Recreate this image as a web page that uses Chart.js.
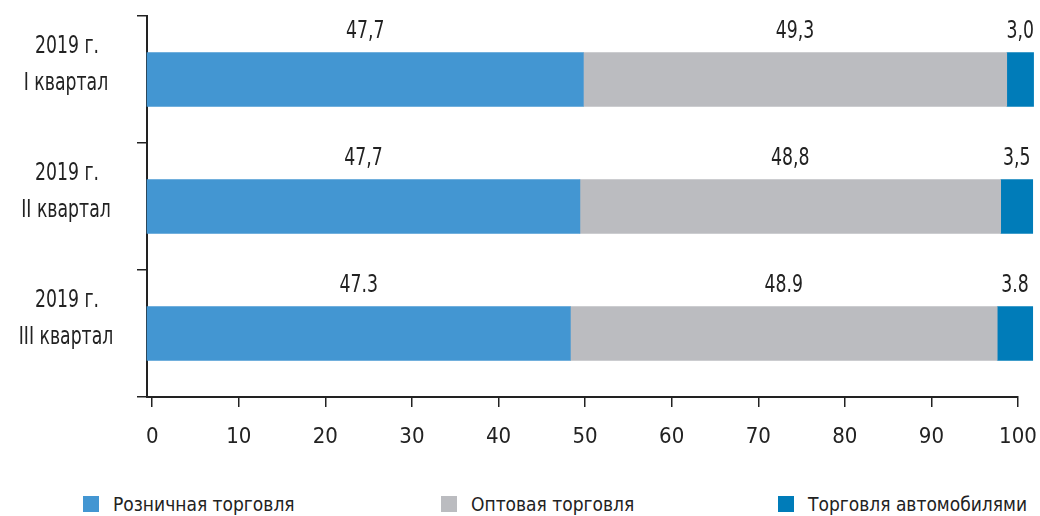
<!DOCTYPE html>
<html>
<head>
<meta charset="utf-8">
<script src="https://cdn.jsdelivr.net/npm/chart.js@4"></script>
<style>
    body { margin: 0; background: #fff; }
    #wrap { position: relative; width: 1040px; height: 516px; }
    #chartBox { position: absolute; left: 0; top: 0; width: 1040px; height: 470px; }
    #legend { position: absolute; left: 0; top: 492px; width: 1040px; height: 24px; }
    .lg-item { position: absolute; top: 0; display: flex; align-items: center; white-space: nowrap;
        font: 20px 'DejaVu Sans Condensed', sans-serif; color: #222; }
    .lg-box { width: 16px; height: 16px; margin-right: 14px; flex: none; }
    .lg-text { display: inline-block; transform: scaleX(0.95); transform-origin: left center; }
</style>
</head>
<body>
<div id="wrap">
    <div id="chartBox"><canvas id="shareChart"></canvas></div>
    <div id="legend"></div>
</div>
<script>
// Категории и значения (длины сегментов)
const categories = [['2019 г.', 'I квартал'], ['2019 г.', 'II квартал'], ['2019 г.', 'III квартал']];
const seriesNames = ['Розничная торговля', 'Оптовая торговля', 'Торговля автомобилями'];
const retail = [49.8, 49.4, 48.3];
const wholesale = [48.9, 48.6, 49.3];
const autos = [3.1, 3.7, 4.1];
// Подписи над сегментами (как на исходном рисунке)
const retailLabels = ['47,7', '47,7', '47.3'];
const wholesaleLabels = ['49,3', '48,8', '48.9'];
const autosLabels = ['3,0', '3,5', '3.8'];
const xTicks = [0, 10, 20, 30, 40, 50, 60, 70, 80, 90, 100];

const colors = ['#4396d2', '#bbbcc0', '#007cb9'];
const FONT = "'DejaVu Sans Condensed', sans-serif";
const TEXT = '#222';

// узкий шрифт: сжимаем текст по горизонтали
function narrowText(ctx, text, x, y, sx) {
    ctx.save();
    ctx.translate(x, y);
    ctx.scale(sx, 1);
    ctx.fillText(text, 0, 0);
    ctx.restore();
}

// Подписи категорий и значений над сегментами
const textLayer = {
    id: 'textLayer',
    afterDatasetsDraw(chart) {
        const ctx = chart.ctx;
        const yScale = chart.scales.y;
        const all = [retailLabels, wholesaleLabels, autosLabels];
        ctx.save();
        ctx.font = '24px ' + FONT;
        ctx.fillStyle = TEXT;
        ctx.textAlign = 'center';
        ctx.textBaseline = 'middle';
        chart.data.datasets.forEach((ds, di) => {
            chart.getDatasetMeta(di).data.forEach((bar, i) => {
                const cx = (bar.x + bar.base) / 2;
                const top = bar.y - bar.height / 2;
                narrowText(ctx, all[di][i], cx, top - 21, 0.8);
            });
        });
        categories.forEach((lines, i) => {
            const mid = yScale.getPixelForValue(i) - 14;
            narrowText(ctx, lines[0], 67, mid - 18.5, 0.8);
            narrowText(ctx, lines[1], 66, mid + 18.5, 0.8);
        });
        ctx.restore();
    }
};

const shareChart = new Chart(document.getElementById('shareChart'), {
    type: 'bar',
    data: {
        labels: categories,
        datasets: [
            { label: seriesNames[0], data: retail, backgroundColor: colors[0], base: -0.6 },
            { label: seriesNames[1], data: wholesale, backgroundColor: colors[1] },
            { label: seriesNames[2], data: autos, backgroundColor: colors[2] }
        ]
    },
    options: {
        indexAxis: 'y',
        responsive: true,
        maintainAspectRatio: false,
        animation: false,
        layout: { padding: { left: 0, top: 16, right: 22, bottom: 0 } },
        datasets: { bar: { barThickness: 54, clip: false } },
        plugins: {
            legend: { display: false },
            tooltip: { enabled: false }
        },
        scales: {
            x: {
                stacked: true,
                min: -0.6,
                max: 100,
                afterBuildTicks: (axis) => { axis.ticks = xTicks.map(v => ({ value: v })); },
                afterFit: (axis) => { axis.height = 73; axis.paddingLeft = 0; axis.paddingRight = 0; },
                border: { color: TEXT, width: 2 },
                grid: { drawOnChartArea: false, drawTicks: true, tickLength: 10, color: TEXT, lineWidth: 1.5 },
                ticks: { color: TEXT, font: { family: FONT, size: 22 }, padding: 17, maxRotation: 0 }
            },
            y: {
                stacked: true,
                afterFit: (axis) => { axis.width = 147; axis.paddingTop = 0; axis.paddingBottom = 0; },
                border: { color: TEXT, width: 2 },
                grid: { offset: true, drawOnChartArea: false, tickLength: 10, color: TEXT, lineWidth: 1.5 },
                ticks: { display: false }
            }
        }
    },
    plugins: [textLayer]
});

// Легенда снизу
const legendLefts = [83, 441, 778];
const legendEl = document.getElementById('legend');
seriesNames.forEach((name, i) => {
    const item = document.createElement('div');
    item.className = 'lg-item';
    item.style.left = legendLefts[i] + 'px';
    item.innerHTML = `<span class="lg-box" style="background:${colors[i]}"></span><span class="lg-text">${name}</span>`;
    legendEl.appendChild(item);
});
</script>
</body>
</html>
